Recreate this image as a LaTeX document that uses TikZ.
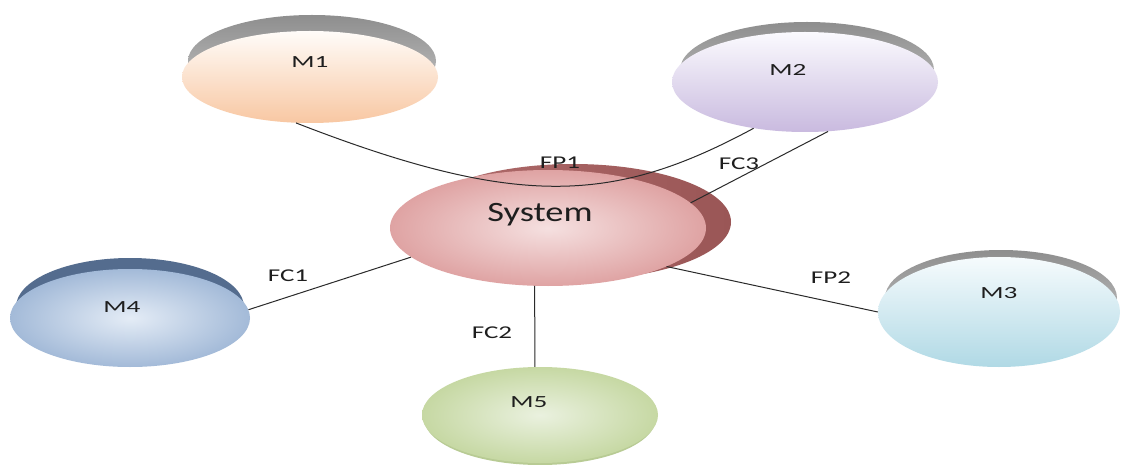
\documentclass[tikz,border=0pt]{standalone}
\usepackage{fontspec}
\setmainfont{Carlito}
\usetikzlibrary{shapes.geometric}

\definecolor{capdark}{HTML}{8E8E8E}
\definecolor{caplight}{HTML}{C9C9C9}
\definecolor{peachtop}{HTML}{FFFCF9}
\definecolor{peachbot}{HTML}{F8C7A2}
\definecolor{lilactop}{HTML}{FBFAFE}
\definecolor{lilacbot}{HTML}{C9BADF}
\definecolor{skytop}{HTML}{F6FBFD}
\definecolor{skybot}{HTML}{B0D9E5}
\definecolor{steelin}{HTML}{E4ECF6}
\definecolor{steelout}{HTML}{A3BAD8}
\definecolor{steelcap}{HTML}{546C8E}
\definecolor{sagein}{HTML}{EAF1DF}
\definecolor{sageout}{HTML}{C6D8A3}
\definecolor{sagerim}{HTML}{B8CB94}
\definecolor{rosein}{HTML}{F5E0E0}
\definecolor{roseout}{HTML}{DFA3A3}
\definecolor{roseshade}{HTML}{B06C6C}
\definecolor{roseshadedark}{HTML}{9A5656}
\definecolor{inkgray}{HTML}{1E1E1E}
\definecolor{wiregray}{HTML}{2A2A2A}

\newcommand\widetext[2]{\scalebox{#1}[1]{#2}}

\tikzset{
  disc/.style={ellipse, inner sep=0pt, draw=none},
  capdisc/.style={disc, top color=capdark, bottom color=caplight},
  mtext/.style={font=\fontsize{17}{17}\selectfont, text=inkgray, inner sep=0pt, anchor=base},
  etext/.style={font=\fontsize{18}{18}\selectfont, text=inkgray, inner sep=0pt, anchor=base},
  wire/.style={draw=wiregray, line width=1pt}
}

\begin{document}
\begin{tikzpicture}[x=1pt,y=-1pt]
  \useasboundingbox (0,0) rectangle (1121,465);
  \fill[white] (0,0) rectangle (1121,465);

  % M1
  \node[capdisc, minimum width=248pt, minimum height=92pt] (m1cap) at (312,61) {};
  \node[disc, minimum width=256pt, minimum height=92pt, top color=peachtop, bottom color=peachbot] (m1) at (310,77) {};
  \node[mtext] (m1t) at (310,68) {\widetext{1.6}{M1}};

  % M2
  \node[capdisc, minimum width=254pt, minimum height=96pt] (m2cap) at (807,70) {};
  \node[disc, minimum width=266pt, minimum height=100pt, top color=lilactop, bottom color=lilacbot] (m2) at (805,82) {};
  \node[mtext] (m2t) at (788,76) {\widetext{1.6}{M2}};

  % M3
  \node[capdisc, minimum width=232pt, minimum height=96pt] (m3cap) at (1001,298) {};
  \node[disc, minimum width=242pt, minimum height=110pt, top color=skytop, bottom color=skybot] (m3) at (999,312) {};
  \node[mtext] (m3t) at (999,298) {\widetext{1.6}{M3}};

  % M4
  \node[disc, minimum width=228pt, minimum height=98pt, fill=steelcap] (m4cap) at (130,307) {};
  \node[disc, minimum width=240pt, minimum height=98pt, shading=radial, inner color=steelin, outer color=steelout] (m4) at (130,318) {};
  \node[mtext] (m4t) at (122,312) {\widetext{1.6}{M4}};

  % M5
  \node[disc, minimum width=232pt, minimum height=94pt, fill=sagerim] (m5rim) at (540,418) {};
  \node[disc, minimum width=236pt, minimum height=96pt, shading=radial, inner color=sagein, outer color=sageout] (m5) at (540,415) {};
  \node[mtext] (m5t) at (529,407) {\widetext{1.6}{M5}};

  % System with its raised shadow
  \node[disc, minimum width=316pt, minimum height=116pt, left color=roseshade, right color=roseshadedark] (sysshade) at (573,222) {};
  \node[disc, minimum width=316pt, minimum height=116pt, shading=radial, inner color=rosein, outer color=roseout] (sys) at (548,228) {};
  \node[font=\fontsize{28}{28}\selectfont, text=inkgray, inner sep=0pt, anchor=base] (syst) at (540,222) {\widetext{1.3}{System}};

  % connectors
  \draw[wire] (m1.253) .. controls (520,210) and (615,203) .. (m2.222);
  \draw[wire] (m2.295) -- (sys.10);
  \draw[wire] (m4.4) -- (sys.192);
  \draw[wire] (sys.257) -- (m5.96);
  \draw[wire] (sys.342) -- (m3.180);

  % connector labels
  \node[etext] (fp1) at (560,169) {\widetext{1.5}{FP1}};
  \node[etext] (fc3) at (739,170) {\widetext{1.5}{FC3}};
  \node[etext] (fc1) at (288,281) {\widetext{1.5}{FC1}};
  \node[etext] (fp2) at (831,283) {\widetext{1.5}{FP2}};
  \node[etext] (fc2) at (492,338) {\widetext{1.5}{FC2}};
\end{tikzpicture}
\end{document}
